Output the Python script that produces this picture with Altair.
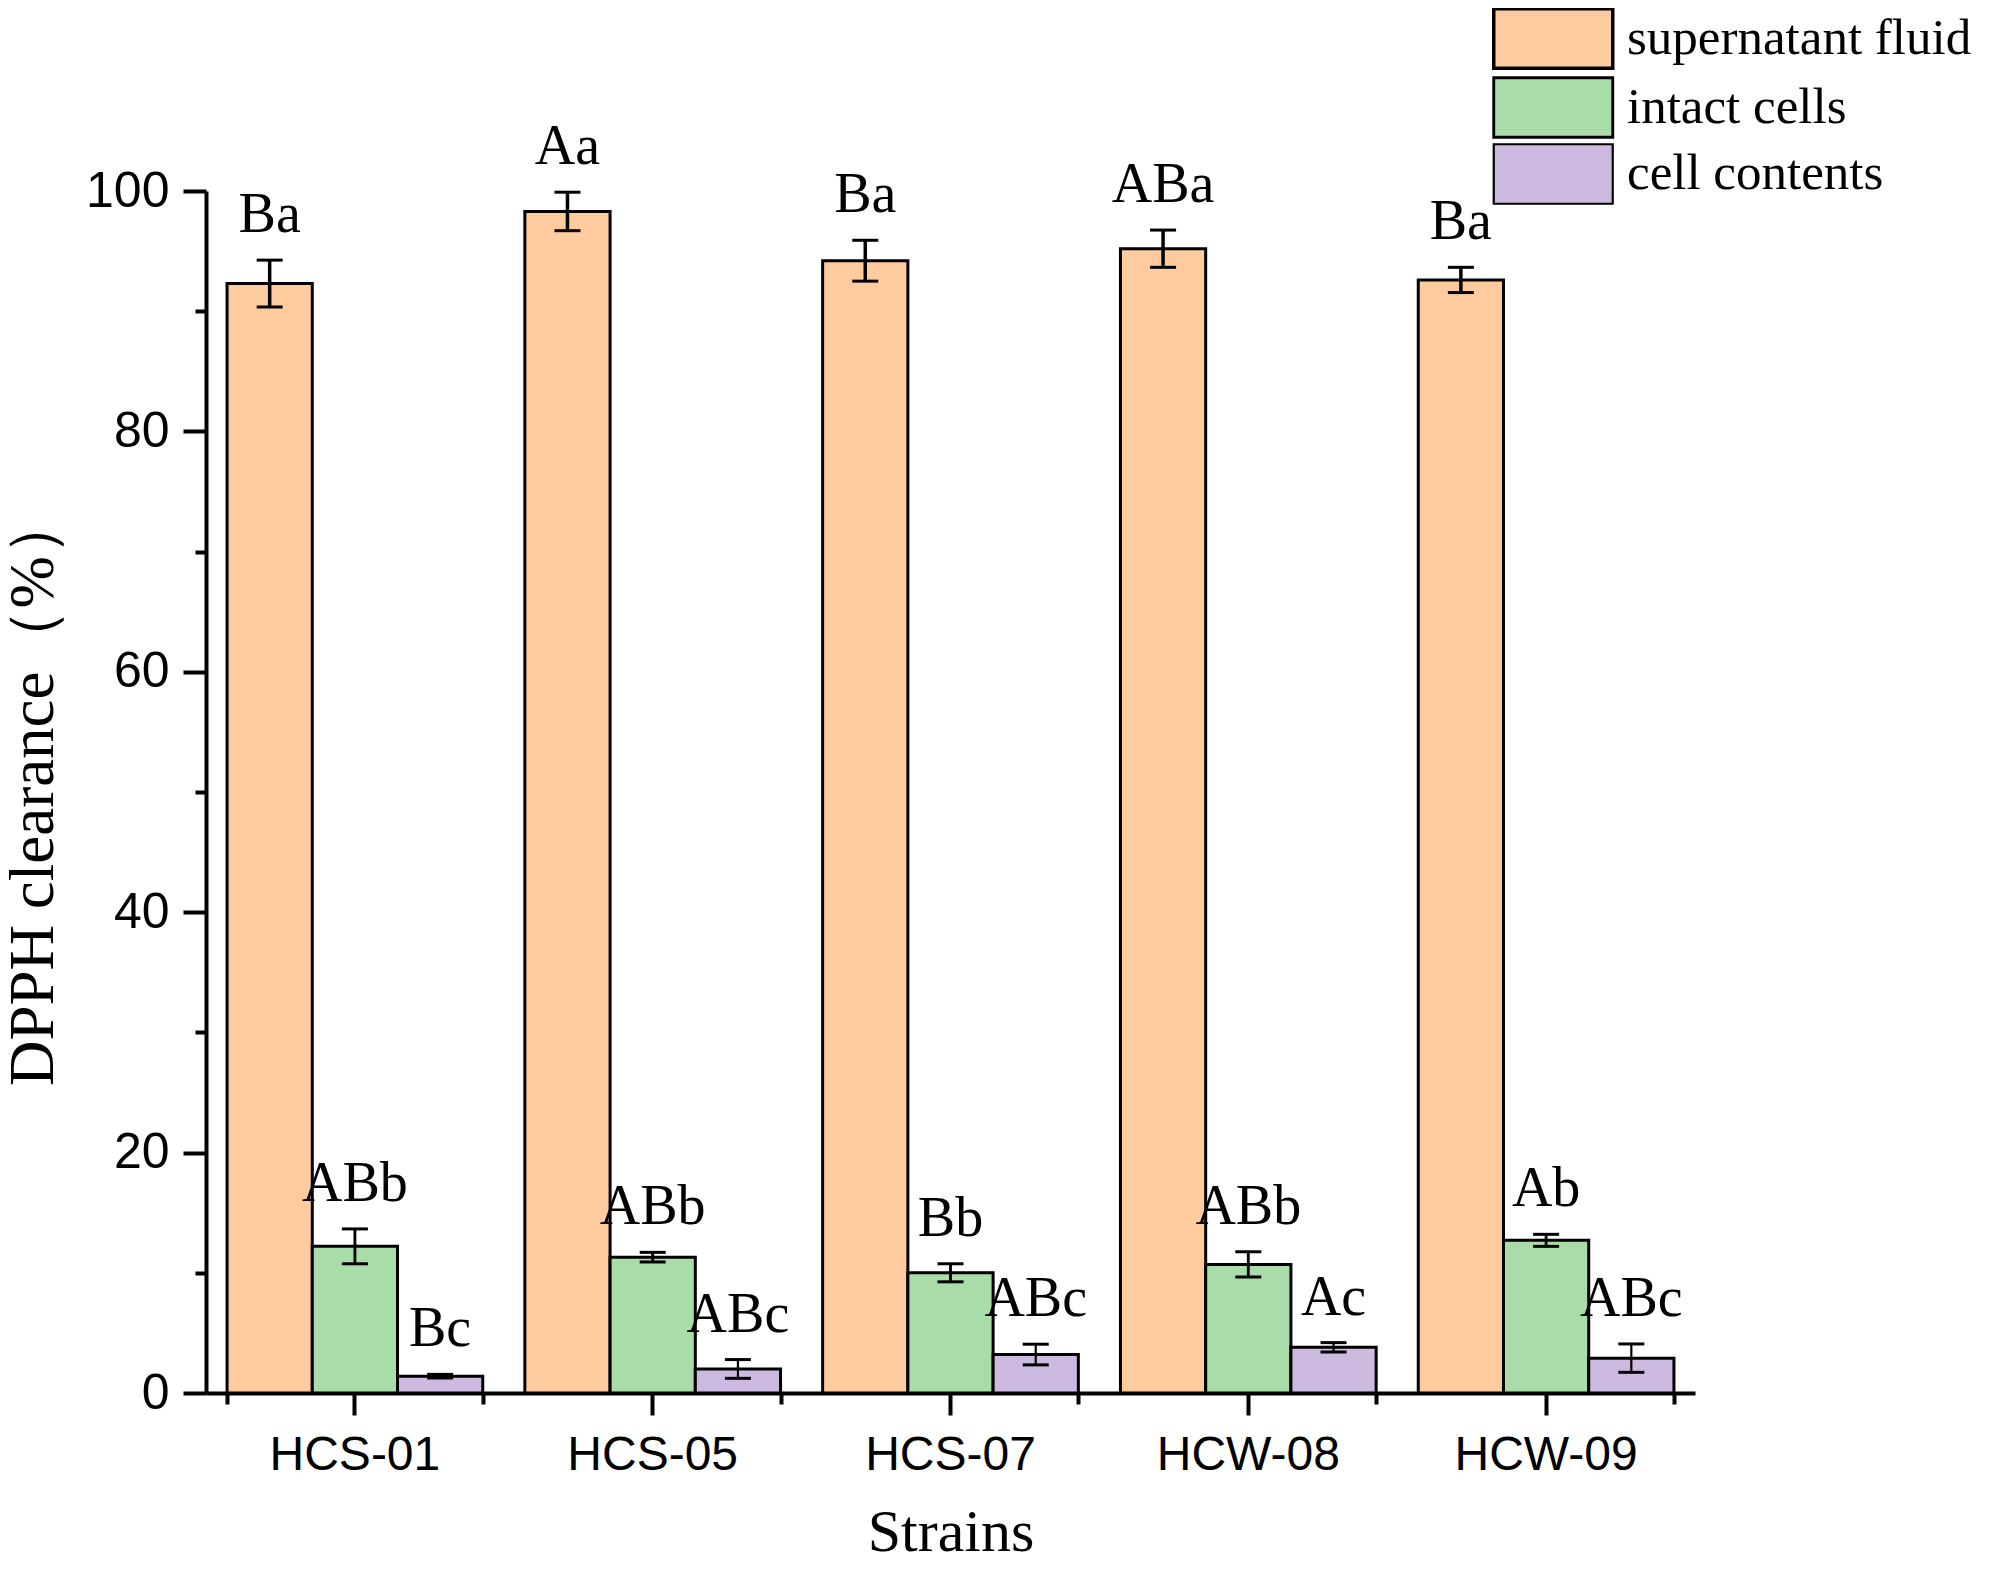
import altair as alt
import pandas as pd

strains = ["HCS-01", "HCS-05", "HCS-07", "HCW-08", "HCW-09"]
groups = ["supernatant fluid", "intact cells", "cell contents"]
colors = ["#FECB9F", "#A9DCA9", "#CDBAE0"]

super_mean = [92.3, 98.3, 94.2, 95.2, 92.6]
super_sd = [1.95, 1.6, 1.7, 1.55, 1.05]
super_letters = ["Ba", "Aa", "Ba", "ABa", "Ba"]

intact_mean = [12.2, 11.3, 10.0, 10.7, 12.7]
intact_sd = [1.45, 0.4, 0.75, 1.05, 0.5]
intact_letters = ["ABb", "ABb", "Bb", "ABb", "Ab"]

content_mean = [1.4, 2.0, 3.2, 3.8, 2.9]
content_sd = [0.15, 0.78, 0.86, 0.39, 1.18]
content_letters = ["Bc", "ABc", "ABc", "Ac", "ABc"]

rows = []
for g, means, sds, lets in [
    (groups[0], super_mean, super_sd, super_letters),
    (groups[1], intact_mean, intact_sd, intact_letters),
    (groups[2], content_mean, content_sd, content_letters),
]:
    for s, m, sd, l in zip(strains, means, sds, lets):
        rows.append({"strain": s, "group": g, "mean": m,
                     "lo": m - sd, "hi": m + sd, "letter": l})
df = pd.DataFrame(rows)

W, H = 1489, 1202
SERIF = "Liberation Serif"
SANS = "Liberation Sans"

xscale = alt.Scale(domain=strains, paddingInner=0.1414, paddingOuter=0.0707)
yscale = alt.Scale(domain=[0, 100], nice=False, zero=True)
offs = alt.XOffset("group:N", sort=groups, scale=alt.Scale(domain=groups, paddingInner=0, paddingOuter=0))

x_major = alt.Axis(orient="bottom", title="Strains", labelAngle=0, labelFont=SANS,
                   labelFontSize=48, labelColor="black", labelPadding=16, labelLimit=400,
                   tickSize=22, tickWidth=4, tickColor="black",
                   domainWidth=4, domainColor="black", grid=False,
                   titleFont=SERIF, titleFontSize=60, titleFontWeight="normal",
                   titleColor="black", titleBaseline="alphabetic",
                   titleY=157, titleX=W / 2, titleAlign="center")
x_minor = alt.Axis(orient="bottom", title=None, labels=False, tickBand="extent",
                   tickSize=11, tickWidth=4, tickColor="black", domain=False, grid=False)

y_major = alt.Axis(orient="left", title="DPPH clearance（%）", values=[0, 20, 40, 60, 80, 100],
                   labelFont=SANS, labelFontSize=50, labelColor="black", labelPadding=14,
                   tickSize=23, tickWidth=4, tickColor="black",
                   domainWidth=4, domainColor="black", grid=False,
                   titleFont=SERIF, titleFontSize=63, titleFontWeight="normal",
                   titleColor="black", titleAngle=270, titleBaseline="alphabetic",
                   titleAlign="center", titleX=-154, titleY=598)
y_minor = alt.Axis(orient="left", title=None, labels=False, values=[10, 30, 50, 70, 90],
                   tickSize=11, tickWidth=4, tickColor="black", domain=False, grid=False)

legend = alt.Legend(orient="none", legendX=1286, legendY=-184, title=None,
                    symbolType="M-1,-1H3V1H-1Z", symbolSize=3540,
                    symbolStrokeColor="black", symbolStrokeWidth=3, symbolOpacity=1,
                    labelFont=SERIF, labelFontSize=51, labelColor="black",
                    labelOffset=72, rowPadding=-4.5, padding=0, labelLimit=600)

base = alt.Chart(df)

bars = base.mark_bar(stroke="black", strokeWidth=3, opacity=1).encode(
    x=alt.X("strain:N", sort=strains, scale=xscale, axis=x_major),
    xOffset=offs,
    y=alt.Y("mean:Q", scale=yscale, axis=y_major),
    color=alt.Color("group:N", sort=groups,
                    scale=alt.Scale(domain=groups, range=colors), legend=legend),
)

sw = alt.StrokeWidth("group:N", scale=alt.Scale(domain=groups, range=[3.5, 2.2, 2.2]), legend=None)

err = base.mark_rule(color="black").encode(
    x=alt.X("strain:N", sort=strains, scale=xscale, axis=None),
    xOffset=offs,
    y=alt.Y("lo:Q", scale=yscale, axis=None),
    y2="hi:Q",
    strokeWidth=sw,
)

cap_hi = base.mark_tick(color="black", size=26, thickness=3, opacity=1).encode(
    x=alt.X("strain:N", sort=strains, scale=xscale, axis=x_minor),
    xOffset=offs,
    y=alt.Y("hi:Q", scale=yscale, axis=y_minor),
)
cap_lo = base.mark_tick(color="black", size=26, thickness=3, opacity=1).encode(
    x=alt.X("strain:N", sort=strains, scale=xscale, axis=None),
    xOffset=offs,
    y=alt.Y("lo:Q", scale=yscale, axis=None),
)

labels = base.mark_text(font=SERIF, fontSize=56, color="black", baseline="alphabetic",
                        align="center", dy=-28).encode(
    x=alt.X("strain:N", sort=strains, scale=xscale, axis=None),
    xOffset=offs,
    y=alt.Y("hi:Q", scale=yscale, axis=None),
    text="letter:N",
)

chart = alt.layer(bars, err, cap_hi, cap_lo, labels).resolve_axis(
    x="independent", y="independent"
).properties(
    width=W, height=H,
    autosize=alt.AutoSizeParams(type="none"),
    padding={"left": 198, "top": 183, "right": 292, "bottom": 170},
    background="white",
).configure_view(stroke=None)

chart.save("out.html", embed_options={"renderer": "svg", "actions": False})
